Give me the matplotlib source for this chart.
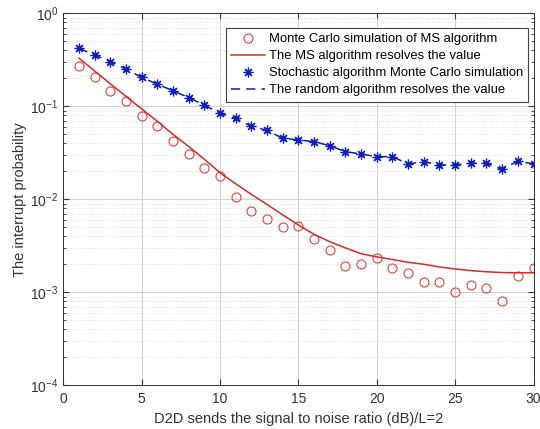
import numpy as np
import matplotlib.pyplot as plt

plt.rcParams['font.family'] = ['Liberation Sans', 'DejaVu Sans']

# SNR axis (dB)
snr = np.arange(1, 31)

# MS algorithm: Monte Carlo points and analytic curve
ms_sim = [0.274, 0.208, 0.147, 0.114, 0.079, 0.061, 0.042, 0.0305, 0.0219, 0.0178,
          0.0107, 0.0074, 0.0061, 0.0050, 0.0052, 0.0037, 0.00285, 0.00192, 0.00201, 0.00232,
          0.00181, 0.00163, 0.00130, 0.00130, 0.00100, 0.00121, 0.00112, 0.00081, 0.00150, 0.00181]
ms_theory = [0.33, 0.24, 0.175, 0.128, 0.094, 0.069, 0.050, 0.037, 0.027, 0.0193,
             0.0147, 0.0113, 0.0088, 0.0068, 0.0053, 0.0042, 0.0035, 0.0030, 0.0026, 0.0024,
             0.00225, 0.0021, 0.0020, 0.00187, 0.00178, 0.00171, 0.00166, 0.00163, 0.00162, 0.00162]

# random algorithm: Monte Carlo points and resolved value
rnd_sim = [0.421, 0.356, 0.302, 0.252, 0.205, 0.173, 0.147, 0.124, 0.103, 0.084,
           0.074, 0.061, 0.055, 0.0453, 0.0435, 0.0416, 0.0377, 0.0325, 0.0307, 0.0287,
           0.0287, 0.0240, 0.0254, 0.0234, 0.0234, 0.0244, 0.0244, 0.0210, 0.0258, 0.0240]
rnd_theory = rnd_sim

fig = plt.figure(figsize=(5.4, 4.29), dpi=100)
ax = fig.add_axes([0.117, 0.102, 0.871, 0.867])

ax.plot(snr, ms_sim, 'o', mfc='none', mec='#e0433a', ms=6.5, mew=0.8,
        label='Monte Carlo simulation of MS algorithm')
ax.plot(snr, ms_theory, '-', color='#d62a2a', lw=1.1,
        label='The MS algorithm resolves the value')
ax.plot(snr, rnd_sim, marker=(8, 2, 0), color='#1020c8', ms=7, mew=0.9, linestyle='none',
        label='Stochastic algorithm Monte Carlo simulation')
ax.plot(snr, rnd_theory, '--', color='#1020a0', lw=1.1, dashes=(6, 4),
        label='The random algorithm resolves the value')

ax.set_yscale('log')
ax.set_xlim(0, 30)
ax.set_ylim(1e-4, 1)
ax.set_xticks(range(0, 31, 5))
ax.grid(True, which='major', color='#d0d0d0', lw=0.7)
ax.grid(True, which='minor', color='#d8d8d8', lw=0.6, linestyle=':')
ax.tick_params(which='both', direction='in', top=True, right=True, labelsize=10,
               colors='#333333')
ax.tick_params(axis='x', pad=5)
ax.tick_params(which='major', length=4)
ax.tick_params(which='minor', length=2)
for s in ax.spines.values():
    s.set_color('#333333')
    s.set_linewidth(0.7)

ax.set_xlabel('D2D sends the signal to noise ratio (dB)/L=2', fontsize=10.5, color='#333333',
              labelpad=4)
ax.set_ylabel('The interrupt probability', fontsize=10.5, color='#333333', labelpad=2)

leg = ax.legend(loc='upper right', bbox_to_anchor=(0.989, 0.961), fontsize=9.4,
                fancybox=False, framealpha=1, edgecolor='#444444', borderpad=0.4,
                labelspacing=0.38, handlelength=2.6, handletextpad=0.3, borderaxespad=0)
leg.get_frame().set_linewidth(0.8)

fig.savefig('out.png', dpi=100)
